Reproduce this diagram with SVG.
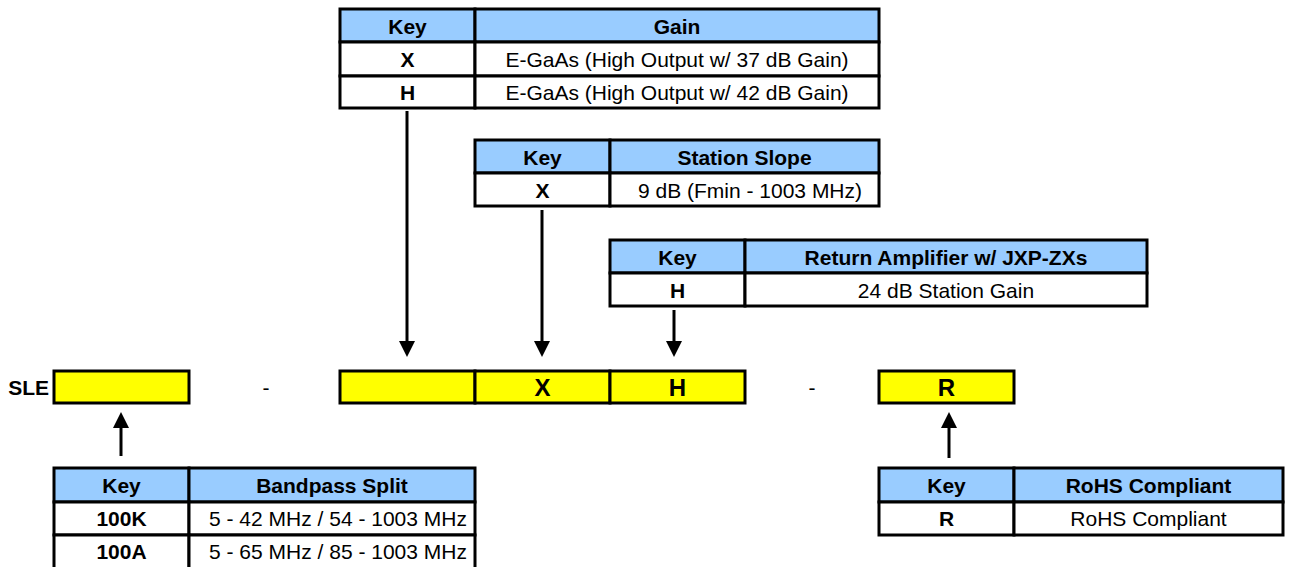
<svg xmlns="http://www.w3.org/2000/svg" width="1291" height="567" viewBox="0 0 1291 567">
<defs>
<style>
.hd{fill:#99CCFF;stroke:#000;stroke-width:3}
.cell{fill:#FFFFFF;stroke:#000;stroke-width:3}
.yb{fill:#FFFF00;stroke:#000;stroke-width:3}
.b{font-family:"Liberation Sans",Arial,sans-serif;font-weight:bold;font-size:21px;fill:#000;text-anchor:middle}
.r{font-family:"Liberation Sans",Arial,sans-serif;font-size:21px;fill:#000;text-anchor:middle}
.big{font-size:24px}
.conn{stroke:#000;stroke-width:3;fill:none;marker-end:url(#ah)}
</style>
<marker id="ah" viewBox="0 0 16 16" refX="2" refY="8" markerWidth="16" markerHeight="16" markerUnits="userSpaceOnUse" orient="auto">
<path d="M0,0 L16,8 L0,16 z" fill="#000"/>
</marker>
</defs>
<rect width="1291" height="567" fill="#FFFFFF"/>

<g id="gain-table">
<rect class="hd" x="340" y="9" width="135" height="33"/>
<rect class="hd" x="475" y="9" width="404" height="33"/>
<rect class="cell" x="340" y="42" width="135" height="34"/>
<rect class="cell" x="475" y="42" width="404" height="34"/>
<rect class="cell" x="340" y="76" width="135" height="32"/>
<rect class="cell" x="475" y="76" width="404" height="32"/>
<text class="b" x="407.5" y="34">Key</text>
<text class="b" x="677" y="34">Gain</text>
<text class="b" x="407.5" y="67">X</text>
<text class="r" x="677" y="67">E-GaAs (High Output w/ 37 dB Gain)</text>
<text class="b" x="407.5" y="100">H</text>
<text class="r" x="677" y="100">E-GaAs (High Output w/ 42 dB Gain)</text>
</g>

<g id="slope-table">
<rect class="hd" x="475" y="140" width="135" height="33"/>
<rect class="hd" x="610" y="140" width="269" height="33"/>
<rect class="cell" x="475" y="173" width="135" height="33"/>
<rect class="cell" x="610" y="173" width="269" height="33"/>
<text class="b" x="542.5" y="165">Key</text>
<text class="b" x="744.5" y="165">Station Slope</text>
<text class="b" x="542.5" y="198">X</text>
<text class="r" x="750" y="198">9 dB (Fmin - 1003 MHz)</text>
</g>

<g id="return-table">
<rect class="hd" x="610" y="240" width="135" height="33"/>
<rect class="hd" x="745" y="240" width="402" height="33"/>
<rect class="cell" x="610" y="273" width="135" height="33"/>
<rect class="cell" x="745" y="273" width="402" height="33"/>
<text class="b" x="677.5" y="265">Key</text>
<text class="b" x="946" y="265">Return Amplifier w/ JXP-ZXs</text>
<text class="b" x="677.5" y="298">H</text>
<text class="r" x="946" y="298">24 dB Station Gain</text>
</g>

<g id="part-number">
<text class="b" x="49" y="395" style="text-anchor:end">SLE</text>
<rect class="yb" x="54" y="371" width="135" height="32"/>
<text class="r" x="266" y="395">-</text>
<rect class="yb" x="340" y="371" width="135" height="32"/>
<rect class="yb" x="475" y="371" width="135" height="32"/>
<rect class="yb" x="610" y="371" width="135" height="32"/>
<text class="b big" x="542.5" y="396">X</text>
<text class="b big" x="677.5" y="396">H</text>
<text class="r" x="812" y="395">-</text>
<rect class="yb" x="879" y="371" width="135" height="32"/>
<text class="b big" x="946.5" y="396">R</text>
</g>

<g id="bandpass-table">
<rect class="hd" x="54" y="468" width="135" height="34"/>
<rect class="hd" x="189" y="468" width="286" height="34"/>
<rect class="cell" x="54" y="502" width="135" height="33"/>
<rect class="cell" x="189" y="502" width="286" height="33"/>
<rect class="cell" x="54" y="535" width="135" height="35"/>
<rect class="cell" x="189" y="535" width="286" height="35"/>
<text class="b" x="121.5" y="493">Key</text>
<text class="b" x="332" y="493">Bandpass Split</text>
<text class="b" x="121.5" y="526">100K</text>
<text class="r" x="338" y="526">5 - 42 MHz / 54 - 1003 MHz</text>
<text class="b" x="121.5" y="559">100A</text>
<text class="r" x="338" y="559">5 - 65 MHz / 85 - 1003 MHz</text>
</g>

<g id="rohs-table">
<rect class="hd" x="879" y="468" width="135" height="34"/>
<rect class="hd" x="1014" y="468" width="269" height="34"/>
<rect class="cell" x="879" y="502" width="135" height="33"/>
<rect class="cell" x="1014" y="502" width="269" height="33"/>
<text class="b" x="946.5" y="493">Key</text>
<text class="b" x="1148.5" y="493">RoHS Compliant</text>
<text class="b" x="946.5" y="526">R</text>
<text class="r" x="1148.5" y="526">RoHS Compliant</text>
</g>

<g id="connectors">
<path class="conn" d="M407,111 L407,343"/>
<path class="conn" d="M542,210 L542,343"/>
<path class="conn" d="M674,310 L674,343"/>
<path class="conn" d="M121,456 L121,426"/>
<path class="conn" d="M949,458 L949,426"/>
</g>
</svg>
